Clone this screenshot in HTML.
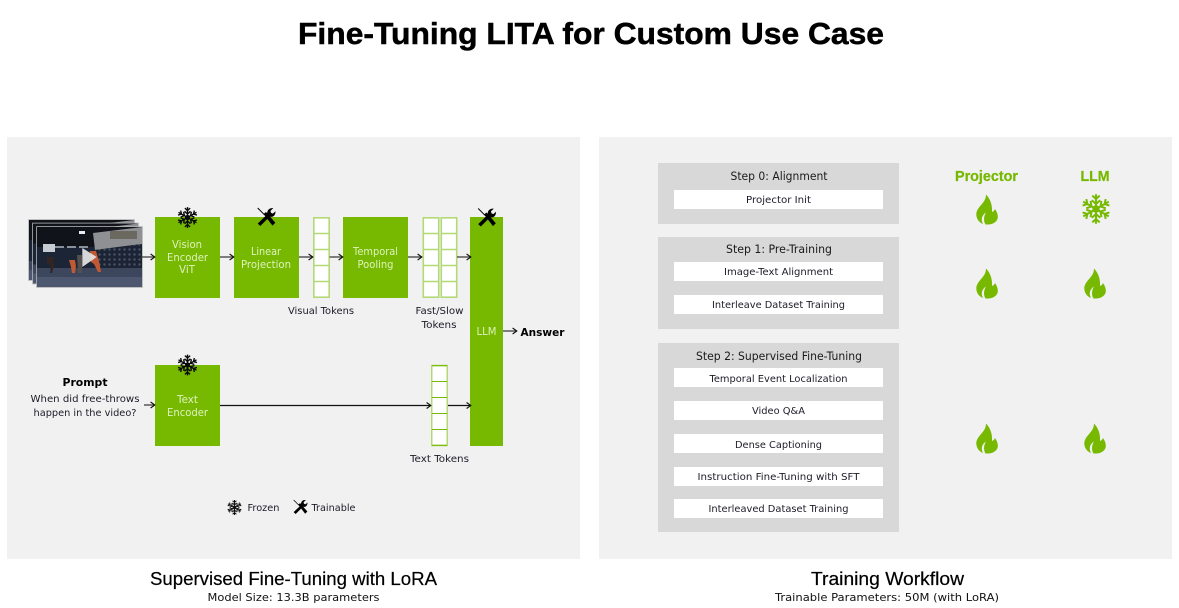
<!DOCTYPE html>
<html><head><meta charset="utf-8">
<style>
html,body{margin:0;padding:0;background:#fff;width:1179px;height:608px;overflow:hidden}
svg{display:block}
text{font-family:"DejaVu Sans","Liberation Sans",sans-serif;text-anchor:middle;fill:#1a1a1a}
.g{fill:#dff2bd;font-size:10.5px}
.s{font-size:10px;fill:#1c1c28}
.h{font-size:11.5px;fill:#1a1a1a}
.b{font-size:9.5px;fill:#1c1c28}
.l{font-family:"Liberation Sans",sans-serif;fill:#000;stroke:#000}
.u{font-size:11px;fill:#111}
.n{font-family:"Liberation Sans",sans-serif;fill:#76b900;stroke:#76b900;stroke-width:.25;font-size:15px;font-weight:bold}
</style></head>
<body>
<svg width="1179" height="608" viewBox="0 0 1179 608" xmlns="http://www.w3.org/2000/svg">
<defs>
<pattern id="dots" width="5" height="5" patternUnits="userSpaceOnUse">
  <rect width="5" height="5" fill="#1c2433"/>
  <circle cx="2.5" cy="2.5" r="1.2" fill="#47536a"/>
</pattern>
<g id="snowarm" fill="none" stroke="currentColor" stroke-width="1.4">
  <path d="M0 0V-10.4"/>
  <path d="M-2.6 -9.4L0 -7L2.6 -9.4M-3 -6.2L0 -3.6L3 -6.2"/>
</g>
<g id="snow">
  <use href="#snowarm"/>
  <use href="#snowarm" transform="rotate(60)"/>
  <use href="#snowarm" transform="rotate(120)"/>
  <use href="#snowarm" transform="rotate(180)"/>
  <use href="#snowarm" transform="rotate(240)"/>
  <use href="#snowarm" transform="rotate(300)"/>
  <circle r="2.6" fill="currentColor"/>
</g>
<g id="tools">
  <path d="M-8.8 -9L-2 -2.2" stroke="#000" stroke-width="1" fill="none"/>
  <path d="M-3 -3L-.5 -5L8.8 5.8L6 8.6Z" fill="#000"/>
  <path d="M-8.8 6.6L-6.2 9L3.2 -.4C5.6 .4 8.3 -.6 8.9 -4.3L9 -5.7L6.3 -3.4L4.4 -4.2L4 -6.3L6.8 -8.8C3 -9.5 .2 -6.8 .7 -2.6Z" fill="#000"/>
</g>
<path id="flame" d="M-1 -15C3 -11 5.500 -5 5 2.500C6.500 2 7.500 1 8 -.5C10 2.500 11 5 10.800 8C10.500 12 6 15 1 15L-1.500 15C-3.500 12 -3.500 7 -1 3C-5 5.500 -6.500 10 -4 14.500C-8 13 -11 9 -10.700 4C-10 -1 -6 -4 -3.500 -7.500C-2 -9.500 -1 -12 -1 -15Z" fill="#76b900"/>
<marker id="ar" viewBox="0 0 8 8" refX="7.2" refY="4" markerWidth="8" markerHeight="8" orient="auto" markerUnits="userSpaceOnUse">
  <path d="M2.8 1L7 4L2.8 7" fill="none" stroke="#111" stroke-width="1.1"/>
</marker>
<g id="frame">
  <rect x="-.8" y="-.8" width="106.600" height="61.600" fill="#b4b4b4"/>
  <rect width="105" height="60" fill="#11131a"/>
  <rect y="20" width="58" height="21" fill="#1b2536"/>
  <path d="M6 20H52" stroke="#aeb7c2" stroke-width="1.600" stroke-dasharray="9 3"/>
  <rect x="6" y="17" width="12" height="8" fill="#c7ccd3"/>
  <rect x="42" y="4" width="6" height="3" fill="#e8ecf2"/>
  <path d="M56 6L105 0V17L58 23Z" fill="#8e9094"/>
  <path d="M73 4H100V12H73Z" fill="#6a685f"/>
  <path d="M58 23L105 17V42H58Z" fill="url(#dots)"/>
  <path d="M0 41H105V60H0Z" fill="#3c465c"/>
  <path d="M0 50H105V60H0Z" fill="#4d5870"/>
  <path d="M10 30h6l1 8 -2 8h-2l1 -7 -4 -2z" fill="#332524"/>
  <path d="M32 33h6l1 6 -1 7h-3l-1 -6z" fill="#c05a35"/>
  <path d="M40 28h5v18h-4z" fill="#55504f"/>
  <path d="M53 24h6l3 10 2 11h-3l-4 -8 -3 -2z" fill="#c05a35"/>
</g>
<g id="col">
  <rect x=".8" y=".8" width="15.400" height="79.400" fill="#fff" stroke="#b3d977" stroke-width="1.600"/>
  <path d="M0 16.500H17M0 32.500H17M0 48.500H17M0 64.500H17" stroke="#b3d977" stroke-width="1.600"/>
</g>
</defs>

<rect width="1179" height="608" fill="#fff"/>
<text class="l" x="591" y="44" font-size="31" font-weight="bold" stroke-width=".5" textLength="586" lengthAdjust="spacingAndGlyphs">Fine-Tuning LITA for Custom Use Case</text>

<rect x="7" y="137" width="573" height="422" fill="#f1f1f1"/>
<rect x="599" y="137" width="573" height="422" fill="#f1f1f1"/>

<!-- Photo stack -->
<use href="#frame" x="29" y="220"/>
<use href="#frame" x="33" y="223.500"/>
<use href="#frame" x="37" y="227"/>
<path d="M82.300 248L96.700 257L82.300 267Z" fill="#e6e6e6" opacity=".92"/>

<!-- Green boxes -->
<rect x="155" y="217" width="65" height="81" fill="#76b900"/>
<rect x="234" y="217" width="65" height="81" fill="#76b900"/>
<rect x="343" y="217" width="65" height="81" fill="#76b900"/>
<rect x="155" y="365" width="65" height="81" fill="#76b900"/>
<rect x="470" y="217" width="33" height="229" fill="#76b900"/>

<text class="g" x="187" y="248" textLength="30" lengthAdjust="spacingAndGlyphs">Vision</text>
<text class="g" x="187.500" y="261" textLength="41" lengthAdjust="spacingAndGlyphs">Encoder</text>
<text class="g" x="187" y="273" textLength="16" lengthAdjust="spacingAndGlyphs">ViT</text>
<text class="g" x="266" y="255" textLength="30" lengthAdjust="spacingAndGlyphs">Linear</text>
<text class="g" x="266" y="268" textLength="50" lengthAdjust="spacingAndGlyphs">Projection</text>
<text class="g" x="375.500" y="255" textLength="45" lengthAdjust="spacingAndGlyphs">Temporal</text>
<text class="g" x="375.500" y="268" textLength="36" lengthAdjust="spacingAndGlyphs">Pooling</text>
<text class="g" x="187.500" y="403" textLength="21" lengthAdjust="spacingAndGlyphs">Text</text>
<text class="g" x="187.500" y="416" textLength="41" lengthAdjust="spacingAndGlyphs">Encoder</text>
<text class="g" x="486.500" y="335" textLength="20" lengthAdjust="spacingAndGlyphs">LLM</text>

<!-- Token columns -->
<use href="#col" x="313" y="217"/>
<use href="#col" x="422.500" y="217"/>
<use href="#col" x="440.500" y="217"/>
<g>
  <rect x="431.750" y="365.500" width="15.500" height="80" fill="#fff" stroke="#b3d977" stroke-width="1.500"/>
  <path d="M432 365.700H447M432 381.500H447M432 397.500H447M432 413.500H447M432 429.500H447M432 445.300H447" stroke="#76b900" stroke-width="1.100"/>
</g>

<!-- Arrows -->
<g stroke="#333" stroke-width="1.200">
  <line x1="141" y1="257" x2="155" y2="257" marker-end="url(#ar)"/>
  <line x1="220" y1="257" x2="234" y2="257" marker-end="url(#ar)"/>
  <line x1="299" y1="257" x2="313" y2="257" marker-end="url(#ar)"/>
  <line x1="329.500" y1="257" x2="343" y2="257" marker-end="url(#ar)"/>
  <line x1="408" y1="257" x2="422" y2="257" marker-end="url(#ar)"/>
  <line x1="457" y1="257" x2="471" y2="257" marker-end="url(#ar)"/>
  <line x1="144" y1="405" x2="155" y2="405" marker-end="url(#ar)"/>
  <line x1="220" y1="405.500" x2="431" y2="405.500" stroke="#111" marker-end="url(#ar)"/>
  <line x1="448" y1="405.500" x2="471" y2="405.500" stroke="#111" marker-end="url(#ar)"/>
  <line x1="503" y1="331" x2="517" y2="331" marker-end="url(#ar)"/>
</g>

<!-- Icons on boxes -->
<use href="#snow" x="187.500" y="217.500" color="#0a0a0a"/>
<use href="#snow" x="187.500" y="365" color="#0a0a0a"/>
<use href="#tools" x="266.500" y="217"/>
<use href="#tools" x="487" y="217.500"/>

<!-- Labels -->
<text class="s" x="321" y="314" textLength="66" lengthAdjust="spacingAndGlyphs">Visual Tokens</text>
<text class="s" x="439.500" y="314" textLength="48" lengthAdjust="spacingAndGlyphs">Fast/Slow</text>
<text class="s" x="439" y="328" textLength="35" lengthAdjust="spacingAndGlyphs">Tokens</text>
<text class="s" x="439.500" y="462" textLength="59" lengthAdjust="spacingAndGlyphs">Text Tokens</text>
<text x="542.500" y="336" font-size="11" font-weight="bold" textLength="44" lengthAdjust="spacingAndGlyphs" style="fill:#000">Answer</text>
<text x="85" y="386" font-size="11" font-weight="bold" textLength="45" lengthAdjust="spacingAndGlyphs" style="fill:#000">Prompt</text>
<text class="s" x="85" y="402" textLength="109" lengthAdjust="spacingAndGlyphs">When did free-throws</text>
<text class="s" x="85" y="416" textLength="103" lengthAdjust="spacingAndGlyphs">happen in the video?</text>

<!-- Legend -->
<use href="#snow" transform="translate(234.500 507.500) scale(.72)" color="#111"/>
<text class="s" x="263.500" y="511" textLength="32" lengthAdjust="spacingAndGlyphs">Frozen</text>
<use href="#tools" transform="translate(300.500 507) scale(.78)"/>
<text class="s" x="333.500" y="511" textLength="44" lengthAdjust="spacingAndGlyphs">Trainable</text>

<!-- Captions -->
<text class="l" x="293.500" y="585" font-size="18" stroke-width=".2" textLength="287" lengthAdjust="spacingAndGlyphs">Supervised Fine-Tuning with LoRA</text>
<text class="u" x="293.500" y="601" textLength="172" lengthAdjust="spacingAndGlyphs">Model Size: 13.3B parameters</text>
<text class="l" x="887.500" y="585" font-size="18" stroke-width=".2" textLength="153" lengthAdjust="spacingAndGlyphs">Training Workflow</text>
<text class="u" x="887" y="601" textLength="224" lengthAdjust="spacingAndGlyphs">Trainable Parameters: 50M (with LoRA)</text>

<!-- Workflow -->
<rect x="658" y="163" width="241" height="61" fill="#d8d8d8"/>
<rect x="658" y="237" width="241" height="92" fill="#d8d8d8"/>
<rect x="658" y="343" width="241" height="189" fill="#d8d8d8"/>

<rect x="674" y="190" width="209" height="19" fill="#fff"/>
<rect x="674" y="262" width="209" height="19" fill="#fff"/>
<rect x="674" y="295" width="209" height="19" fill="#fff"/>
<rect x="674" y="368" width="209" height="19" fill="#fff"/>
<rect x="674" y="401" width="209" height="19" fill="#fff"/>
<rect x="674" y="434" width="209" height="19" fill="#fff"/>
<rect x="674" y="467" width="209" height="19" fill="#fff"/>
<rect x="674" y="499" width="209" height="19" fill="#fff"/>

<text class="h" x="779" y="180" textLength="97" lengthAdjust="spacingAndGlyphs">Step 0: Alignment</text>
<text class="h" x="779" y="253" textLength="106" lengthAdjust="spacingAndGlyphs">Step 1: Pre-Training</text>
<text class="h" x="779" y="360" textLength="166" lengthAdjust="spacingAndGlyphs">Step 2: Supervised Fine-Tuning</text>

<text class="b" x="778.500" y="203" textLength="65" lengthAdjust="spacingAndGlyphs">Projector Init</text>
<text class="b" x="778.500" y="275" textLength="109" lengthAdjust="spacingAndGlyphs">Image-Text Alignment</text>
<text class="b" x="778.500" y="308" textLength="133" lengthAdjust="spacingAndGlyphs">Interleave Dataset Training</text>
<text class="b" x="778.500" y="382" textLength="138" lengthAdjust="spacingAndGlyphs">Temporal Event Localization</text>
<text class="b" x="778.500" y="414" textLength="53" lengthAdjust="spacingAndGlyphs">Video Q&amp;A</text>
<text class="b" x="778.500" y="448" textLength="87" lengthAdjust="spacingAndGlyphs">Dense Captioning</text>
<text class="b" x="778.500" y="480" textLength="162" lengthAdjust="spacingAndGlyphs">Instruction Fine-Tuning with SFT</text>
<text class="b" x="778.500" y="512" textLength="140" lengthAdjust="spacingAndGlyphs">Interleaved Dataset Training</text>

<text class="n" x="986.500" y="181" textLength="63" lengthAdjust="spacingAndGlyphs">Projector</text>
<text class="n" x="1095" y="181" textLength="29" lengthAdjust="spacingAndGlyphs">LLM</text>

<use href="#flame" x="987" y="209.500"/>
<use href="#snow" transform="translate(1096 209) scale(1.42)" color="#76b900"/>
<use href="#flame" x="987" y="283.500"/>
<use href="#flame" x="1095" y="283.500"/>
<use href="#flame" x="987" y="438.500"/>
<use href="#flame" x="1095" y="438.500"/>
</svg>
</body></html>
